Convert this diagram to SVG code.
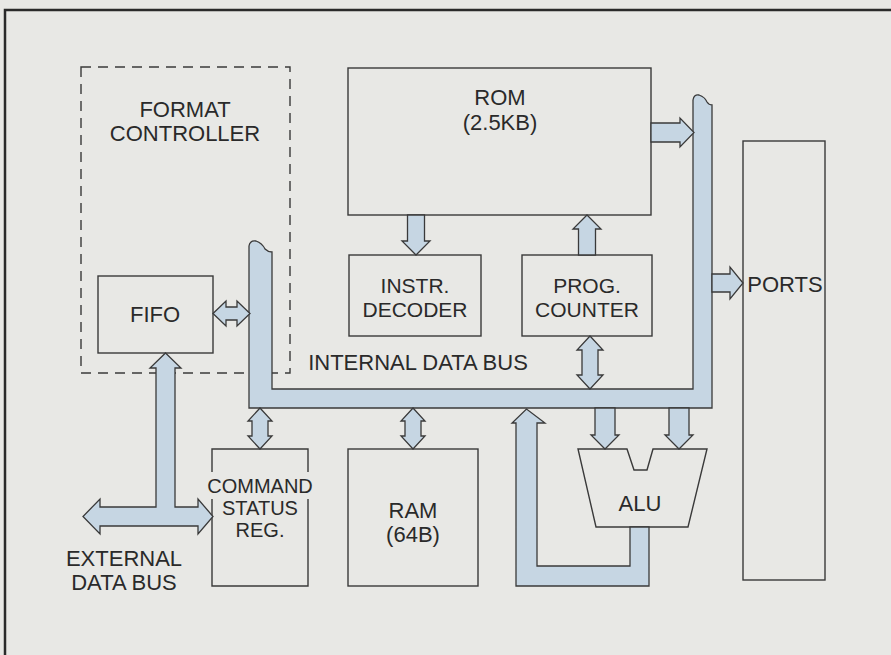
<svg xmlns="http://www.w3.org/2000/svg" width="891" height="655" viewBox="0 0 891 655">
<style>
.box{fill:none;stroke:#3a3a3a;stroke-width:1.4}
.bus{fill:#c6d6e3;stroke:#3a3a3a;stroke-width:1.3;stroke-linejoin:miter}
text{font-family:"Liberation Sans",Arial,sans-serif;font-size:22px;fill:#2a2a2a;text-anchor:middle}
.sm{font-size:20px}
.md{font-size:21px}
</style>
<rect x="0" y="0" width="891" height="655" fill="#e8e8e5"/>
<path d="M5,655 L5,10 L891,10" fill="none" stroke="#2a2a2a" stroke-width="2.5"/>

<g id="format-controller">
<rect x="81" y="67" width="209" height="306" fill="none" stroke="#3a3a3a" stroke-width="1.4" stroke-dasharray="10,7"/>
<text x="185" y="117">FORMAT</text>
<text x="185" y="141">CONTROLLER</text>
</g>

<g id="fifo">
<rect class="box" x="98" y="276" width="115" height="77"/>
<text x="155" y="322">FIFO</text>
</g>

<g id="rom">
<rect class="box" x="348" y="68" width="303" height="147"/>
<text x="500" y="105">ROM</text>
<text x="500" y="130">(2.5KB)</text>
</g>

<g id="instr-decoder">
<rect class="box" x="349" y="255" width="132" height="81"/>
<text class="md" x="415" y="293">INSTR.</text>
<text class="md" x="415" y="317">DECODER</text>
</g>

<g id="prog-counter">
<rect class="box" x="522" y="255" width="130" height="81"/>
<text class="md" x="587" y="293">PROG.</text>
<text class="md" x="587" y="317">COUNTER</text>
</g>

<g id="ports">
<rect class="box" x="743" y="141" width="82" height="439"/>
<text x="785" y="292">PORTS</text>
</g>

<g id="command-status-reg">
<path class="box" d="M212,472 L212,449 L308,449 L308,472 M308,499 L308,586 L212,586 L212,499"/>
<text class="sm" x="260" y="493">COMMAND</text>
<text class="sm" x="260" y="515">STATUS</text>
<text class="sm" x="260" y="537">REG.</text>
</g>

<g id="ram">
<rect class="box" x="348" y="449" width="130" height="137"/>
<text x="413" y="518">RAM</text>
<text x="413" y="542">(64B)</text>
</g>

<g id="alu">
<path class="box" d="M578,449 L627,449 L634,470 L647,470 L653,449 L707,449 L688,527 L596,527 Z"/>
<text x="640" y="511">ALU</text>
</g>

<g id="labels">
<text x="418" y="370">INTERNAL DATA BUS</text>
<text x="124" y="566">EXTERNAL</text>
<text x="124" y="590">DATA BUS</text>
</g>

<g id="connectors">
<path class="bus" d="M249,408 L249,246 Q250,240 256,241 Q262,243 265,249 Q268,252 272,252 L272,389 L693,389 L693,100 Q694,94 699,95 Q705,97 707,102 Q709,105 712,105 L712,408 Z"/>
<polygon class="bus" points="213,313.5 226,301 226,307 237,307 237,301 250,313.5 237,326 237,320 226,320 226,326"/>
<polygon class="bus" points="165.5,353 181,368 175,368 175,507 198,507 198,499 213,516.5 198,534 198,526 100,526 100,534 83,516.5 100,499 100,507 156,507 156,368 150,368"/>
<polygon class="bus" points="651,123 680,123 680,118 694,132.5 680,147 680,142 651,142"/>
<polygon class="bus" points="712,274 730,274 730,267 743,283 730,299 730,292 712,292"/>
<polygon class="bus" points="407.5,215 424.5,215 424.5,241 430,241 416,255 402,241 407.5,241"/>
<polygon class="bus" points="587,215 601,229 595.5,229 595.5,255 578.5,255 578.5,229 573,229"/>
<polygon class="bus" points="590,336 603,350 598,350 598,375 603,375 590,389 577,375 582,375 582,350 577,350"/>
<polygon class="bus" points="260,408 272,421 268,421 268,436 272,436 260,449 248,436 252,436 252,421 248,421"/>
<polygon class="bus" points="413,408 425,421 421,421 421,436 425,436 413,449 401,436 405,436 405,421 401,421"/>
<polygon class="bus" points="595,408 615,408 615,435 619,435 605,449 591,435 595,435"/>
<polygon class="bus" points="669,408 689,408 689,435 693,435 679,449 665,435 669,435"/>
<polygon class="bus" points="630,527 649,527 649,586 516,586 516,423 512,423 526.5,409 545,423 537,423 537,566 630,566"/>
</g>
</svg>
